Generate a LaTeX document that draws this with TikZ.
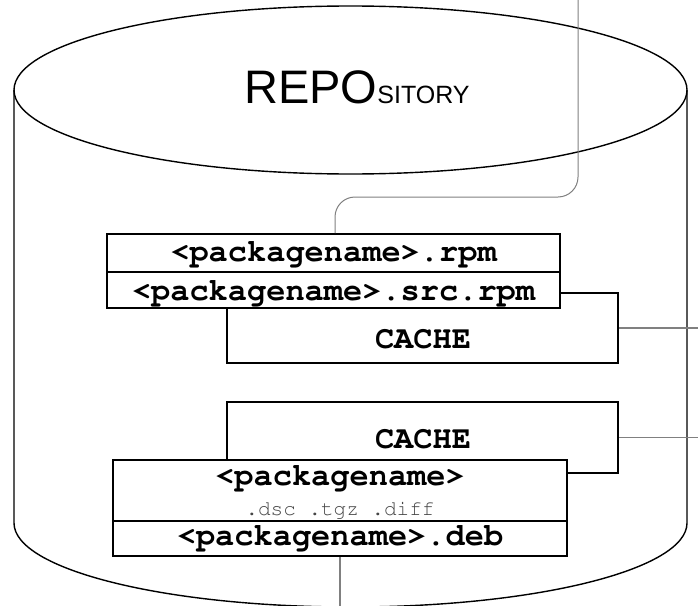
\documentclass[tikz,border=0pt]{standalone}
\usepackage[T1,TU]{fontenc}
\usepackage{fontspec}
\newfontfamily\repfont{Liberation Sans}
\newcommand\courb{\fontencoding{T1}\fontfamily{pcr}\fontseries{b}\selectfont}
\newcommand\courm{\fontencoding{T1}\fontfamily{pcr}\fontseries{m}\selectfont}
\definecolor{conncol}{RGB}{128,128,128}
\definecolor{subcol}{RGB}{70,70,70}
\tikzset{
  cylst/.style={draw=black, line width=1.4pt},
  boxst/.style={draw=black, fill=white, line width=2pt, inner sep=0pt, rectangle},
  conn/.style={draw=conncol, line width=1.3pt},
  lbl/.style={anchor=base, inner sep=0pt, font=\courb\fontsize{32}{36}\selectfont},
  sublbl/.style={anchor=base, inner sep=0pt, text=subcol, font=\courm\fontsize{21}{24}\selectfont}
}
\begin{document}
\begin{tikzpicture}[x=1pt,y=-1pt]
\useasboundingbox (0,0) rectangle (698,605);
\clip (0,0) rectangle (698,605);
% cylinder
\draw[cylst, fill=white] (14,90) -- (14,523) arc[start angle=180, end angle=360, x radius=336.5pt, y radius=84pt] -- (687,90);
\draw[cylst] (350.5,90) ellipse [x radius=336.5pt, y radius=84pt];
\node[anchor=base west, inner sep=0pt] (title) at (244,103) {\repfont\fontsize{47}{50}\selectfont REPO\fontsize{25}{27}\selectfont SITORY};
% free ends
\coordinate (topin) at (578,-2);
\coordinate (outA) at (700,328);
\coordinate (outB) at (700,437.5);
\coordinate (outC) at (340,608);
% upper group boxes
\node[boxst, minimum width=391pt, minimum height=70pt] (cacheA) at (422.5,328) {};
\node[boxst, minimum width=453pt, minimum height=38pt] (rpm) at (333.5,253) {};
\node[boxst, minimum width=453pt, minimum height=36pt] (srcrpm) at (333.5,290) {};
% lower group boxes
\node[boxst, minimum width=391pt, minimum height=71pt] (cacheB) at (422.5,437.5) {};
\node[boxst, minimum width=454pt, minimum height=61pt] (debsrc) at (340,490.5) {};
\node[boxst, minimum width=454pt, minimum height=35pt] (deb) at (340,538.5) {};
% labels
\node[lbl] (cacheAt) at (423,348) {CACHE};
\node[lbl] (rpmt) at (333.5,261) {<packagename>.rpm};
\node[lbl] (srcrpmt) at (333.5,300) {<packagename>.src.rpm};
\node[lbl] (cacheBt) at (423,448) {CACHE};
\node[lbl] (debsrct) at (340,485) {<packagename>};
\node[sublbl] (debsrcs) at (340,515) {.dsc .tgz .diff};
\node[lbl] (debt) at (340,545) {<packagename>.deb};
% connectors
\draw[conn, line width=1pt, rounded corners=20pt] (topin) |- ([xshift=1.5pt, yshift=36pt]rpm.north) -- ([xshift=1.5pt]rpm.north);
\draw[conn] (cacheA.east) -- (outA);
\draw[conn] (cacheB.east) -- (outB);
\draw[conn] (deb.south) -- (outC);
\end{tikzpicture}
\end{document}
